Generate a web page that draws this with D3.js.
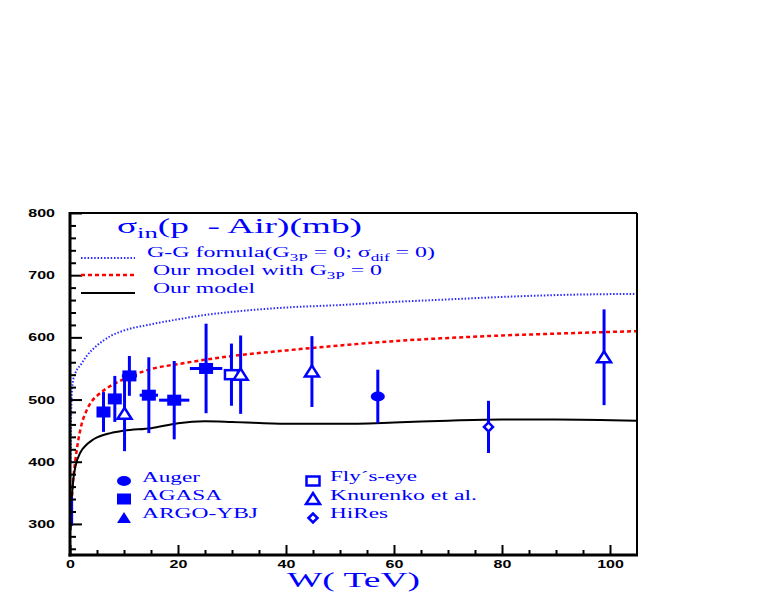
<!DOCTYPE html>
<html>
<head>
<meta charset="utf-8">
<script src="https://cdn.jsdelivr.net/npm/d3@7/dist/d3.min.js"></script>
<style>
html, body { margin: 0; padding: 0; background: #fff; overflow: hidden; }
svg { display: block; }
</style>
</head>
<body>
<script>
var width = 763
var height = 599
var margin = { left: 70, right: 126, top: 213, bottom: 44 }

var innerWidth = width - margin.left - margin.right
var innerHeight = height - margin.top - margin.bottom

// curves: W (TeV) grid and cross sections (mb)
var wGrid = [0.1, 0.2, 0.3, 0.6, 1, 2, 3, 4, 5, 7.5, 10, 15, 20, 25, 30, 40, 50, 60, 70, 80, 90, 105]
var ggFormula = [400, 470, 505, 532, 543, 556, 569, 579, 587, 602, 611, 621, 629, 636, 641, 648, 652, 657, 661, 665, 668, 670]
var modelNoG3P = [300, 322, 335, 372, 403, 455, 481, 497, 506, 522, 533, 549, 557, 564, 570, 579, 587, 594, 599, 603, 606, 610]
var ourModel = [290, 312, 335, 370, 392, 416, 427, 434, 439, 446, 450, 454, 462, 465, 464, 461, 461, 463, 466, 468, 468, 466]

// experimental points
var agasaW = [6.2, 8.3, 11.0, 14.6, 19.3, 25.2]
var agasaS = [480, 501, 538, 507, 499, 550]
var agasaErr = [32, 37, 32, 61, 63, 72]
var agasaWErr = [0, 0, 1.4, 1.7, 2.8, 3.0]
var knurW = [10.1, 31.6, 44.8, 98.9]
var knurS = [477, 540, 545, 568]
var knurErr = [60, 63, 57, 77]
var flyW = [29.9], flyS = [540], flyErr = [50]
var augerW = [57.0], augerS = [505], augerErr = [43]
var hiresW = [77.5], hiresS = [456], hiresErr = [42]
var argoW = [0.3], argoS = [320], argoErr = [23]

var yMajor = [300, 400, 500, 600, 700, 800]
var xMajor = [0, 20, 40, 60, 80, 100]

var blue = '#0000ff'
var serif = 'Liberation Serif, Times New Roman, serif'
var sans = 'Liberation Sans, Arial, sans-serif'

var svg = d3.select('body').append('svg').attr('width', width).attr('height', height)
var g = svg.append('g').attr('transform', `translate(${margin.left},${margin.top})`)

var xScale = d3.scaleLinear().domain([0, 105]).range([0, innerWidth])
var yScale = d3.scaleLinear().domain([250, 800]).range([innerHeight, 0])

svg.append('clipPath').attr('id', 'clip').append('rect')
    .attr('width', innerWidth).attr('height', innerHeight)

// the original text is drawn wide, so stretch each text to its width
function fit(t, w) {
    t.attr('textLength', w).attr('lengthAdjust', 'spacingAndGlyphs')
}

// curves
var line = d3.line().x(d => xScale(d[0])).y(d => yScale(d[1])).curve(d3.curveMonotoneX)
var curves = g.append('g').attr('clip-path', 'url(#clip)')
curves.append('path').datum(wGrid.map((w, i) => [w, ggFormula[i]]))
    .attr('d', line).attr('fill', 'none').attr('stroke', '#2a2aff').attr('stroke-width', 2).attr('stroke-dasharray', '1.5,1.8')
curves.append('path').datum(wGrid.map((w, i) => [w, modelNoG3P[i]]))
    .attr('d', line).attr('fill', 'none').attr('stroke', '#ff0000').attr('stroke-width', 2.5).attr('stroke-dasharray', '4,3')
curves.append('path').datum(wGrid.map((w, i) => [w, ourModel[i]]))
    .attr('d', line).attr('fill', 'none').attr('stroke', '#000').attr('stroke-width', 2)

// markers
function marker(sel, type, x, y) {
    if (type == 'circle') {
        sel.append('ellipse').attr('cx', x).attr('cy', y).attr('rx', 7).attr('ry', 5).attr('fill', blue)
    } else if (type == 'square') {
        sel.append('rect').attr('x', x - 7).attr('y', y - 5.5).attr('width', 14).attr('height', 11).attr('fill', blue)
    } else if (type == 'triangle') {
        sel.append('path').attr('d', `M${x - 7},${y + 5}L${x + 7},${y + 5}L${x},${y - 6}Z`).attr('fill', blue)
    } else if (type == 'osquare') {
        sel.append('rect').attr('x', x - 6.5).attr('y', y - 4.5).attr('width', 13).attr('height', 9)
            .attr('fill', '#fff').attr('stroke', blue).attr('stroke-width', 2.5)
    } else if (type == 'otriangle') {
        sel.append('path').attr('d', `M${x - 7},${y + 5}L${x + 7},${y + 5}L${x},${y - 6}Z`)
            .attr('fill', '#fff').attr('stroke', blue).attr('stroke-width', 2.5)
    } else if (type == 'odiamond') {
        sel.append('path').attr('d', `M${x - 4.5},${y}L${x},${y - 4.5}L${x + 4.5},${y}L${x},${y + 4.5}Z`)
            .attr('fill', '#fff').attr('stroke', blue).attr('stroke-width', 2.5)
    }
}

function points(W, S, E, WE, type) {
    var pg = g.append('g').attr('clip-path', 'url(#clip)')
    W.forEach((w, i) => {
        var x = xScale(w), y = yScale(S[i])
        pg.append('line').attr('x1', x).attr('x2', x)
            .attr('y1', yScale(S[i] + E[i])).attr('y2', yScale(S[i] - E[i]))
            .attr('stroke', blue).attr('stroke-width', 3)
        if (WE && WE[i] > 0) {
            pg.append('line').attr('x1', xScale(w - WE[i])).attr('x2', xScale(w + WE[i]))
                .attr('y1', y).attr('y2', y).attr('stroke', blue).attr('stroke-width', 3)
        }
        marker(pg, type, x, y)
    })
}

// ARGO-YBJ sits on the axis, only its bar shows
points(argoW, argoS, argoErr, null, 'none')
points(agasaW, agasaS, agasaErr, agasaWErr, 'square')
points(flyW, flyS, flyErr, null, 'osquare')
points(knurW, knurS, knurErr, null, 'otriangle')
points(augerW, augerS, augerErr, null, 'circle')
points(hiresW, hiresS, hiresErr, null, 'odiamond')

// axes
var yMinor = d3.range(260, 801, 20).filter(v => v % 100 != 0)
var xMinor = d3.range(5, 105, 5).filter(v => v % 20 != 0)

var yAxis = g.append('g').call(d3.axisLeft(yScale).tickValues(yMajor).tickSize(-12).tickPadding(15))
var yAxisMinor = g.append('g').call(d3.axisLeft(yScale).tickValues(yMinor).tickSize(-6).tickFormat(''))
var xAxis = g.append('g').attr('transform', `translate(0,${innerHeight})`)
    .call(d3.axisBottom(xScale).tickValues(xMajor).tickSize(-10).tickPadding(8))
var xAxisMinor = g.append('g').attr('transform', `translate(0,${innerHeight})`)
    .call(d3.axisBottom(xScale).tickValues(xMinor).tickSize(-5).tickFormat(''))

;[yAxis, yAxisMinor, xAxis, xAxisMinor].forEach(a => {
    a.select('.domain').remove()
    a.selectAll('.tick line').attr('stroke', '#000').attr('stroke-width', 2)
})
yAxisMinor.selectAll('.tick text').remove()
xAxisMinor.selectAll('.tick text').remove()

yAxis.selectAll('.tick text')
    .attr('x', -15).attr('dy', '0.35em')
    .attr('font-family', sans).attr('font-weight', 'bold').attr('font-size', 10).attr('fill', '#000')
    .each(function () { fit(d3.select(this), this.getComputedTextLength() * 1.6) })
xAxis.selectAll('.tick text')
    .attr('y', 13).attr('dy', null)
    .attr('font-family', sans).attr('font-weight', 'bold').attr('font-size', 10).attr('fill', '#000')
    .each(function () { fit(d3.select(this), this.getComputedTextLength() * 1.6) })

// frame
g.append('line').attr('x1', innerWidth).attr('x2', innerWidth).attr('y1', 0).attr('y2', innerHeight).attr('stroke', '#000').attr('stroke-width', 2)
g.append('line').attr('x1', 0).attr('x2', innerWidth).attr('y1', 0).attr('y2', 0).attr('stroke', '#000').attr('stroke-width', 2)
g.append('line').attr('x1', 0).attr('x2', 0).attr('y1', -1).attr('y2', innerHeight + 1.5).attr('stroke', '#000').attr('stroke-width', 3)
g.append('line').attr('x1', -1.5).attr('x2', innerWidth + 1).attr('y1', innerHeight).attr('y2', innerHeight).attr('stroke', '#000').attr('stroke-width', 3)

// title and curve legend
var title = svg.append('text').attr('x', 117).attr('y', 233)
    .attr('font-family', serif).attr('font-size', 21).attr('fill', blue)
title.append('tspan').text('σ')
title.append('tspan').attr('font-size', 15).attr('dy', 5).text('in')
title.append('tspan').attr('dy', -5).text('(p\u00a0\u00a0- Air)(mb)')
fit(title, 245)

var lg1 = svg.append('text').attr('x', 147).attr('y', 257)
    .attr('font-family', serif).attr('font-size', 14).attr('fill', blue)
lg1.append('tspan').text('G-G fornula(G')
lg1.append('tspan').attr('font-size', 10).attr('dy', 4).text('3P')
lg1.append('tspan').attr('dy', -4).text('\u00a0= 0; σ')
lg1.append('tspan').attr('font-size', 10).attr('dy', 4).text('dif')
lg1.append('tspan').attr('dy', -4).text('\u00a0= 0)')
fit(lg1, 288)

var lg2 = svg.append('text').attr('x', 153).attr('y', 275)
    .attr('font-family', serif).attr('font-size', 14).attr('fill', blue)
lg2.append('tspan').text('Our model with G')
lg2.append('tspan').attr('font-size', 10).attr('dy', 4).text('3P')
lg2.append('tspan').attr('dy', -4).text('\u00a0= 0')
fit(lg2, 229)

var lg3 = svg.append('text').attr('x', 153).attr('y', 293)
    .attr('font-family', serif).attr('font-size', 14).attr('fill', blue).text('Our model')
fit(lg3, 102)

svg.append('line').attr('x1', 81).attr('x2', 135).attr('y1', 258).attr('y2', 258)
    .attr('stroke', '#2a2aff').attr('stroke-width', 2).attr('stroke-dasharray', '1.5,1.8')
svg.append('line').attr('x1', 81).attr('x2', 135).attr('y1', 275).attr('y2', 275)
    .attr('stroke', '#ff0000').attr('stroke-width', 2.5).attr('stroke-dasharray', '4,3')
svg.append('line').attr('x1', 81).attr('x2', 135).attr('y1', 293).attr('y2', 293)
    .attr('stroke', '#000').attr('stroke-width', 2)

// marker legend
var legendItems = [
    { type: 'circle', label: 'Auger', mx: 124, my: 481, tx: 142, ty: 482, w: 58 },
    { type: 'square', label: 'AGASA', mx: 124, my: 499, tx: 142, ty: 500, w: 80 },
    { type: 'triangle', label: 'ARGO-YBJ', mx: 124, my: 518, tx: 142, ty: 518, w: 116 },
    { type: 'osquare', label: 'Fly´s-eye', mx: 313, my: 481, tx: 330, ty: 481, w: 87 },
    { type: 'otriangle', label: 'Knurenko et al.', mx: 313, my: 499, tx: 330, ty: 500, w: 147 },
    { type: 'odiamond', label: 'HiRes', mx: 313, my: 518, tx: 330, ty: 518, w: 58 }
]
legendItems.forEach(d => {
    marker(svg, d.type, d.mx, d.my)
    var t = svg.append('text').attr('x', d.tx).attr('y', d.ty)
        .attr('font-family', serif).attr('font-size', 15).attr('fill', blue).text(d.label)
    fit(t, d.w)
})

var xLabel = svg.append('text').attr('x', 287).attr('y', 587)
    .attr('font-family', serif).attr('font-size', 21).attr('fill', blue).text('W( TeV)')
fit(xLabel, 133)
</script>
</body>
</html>
